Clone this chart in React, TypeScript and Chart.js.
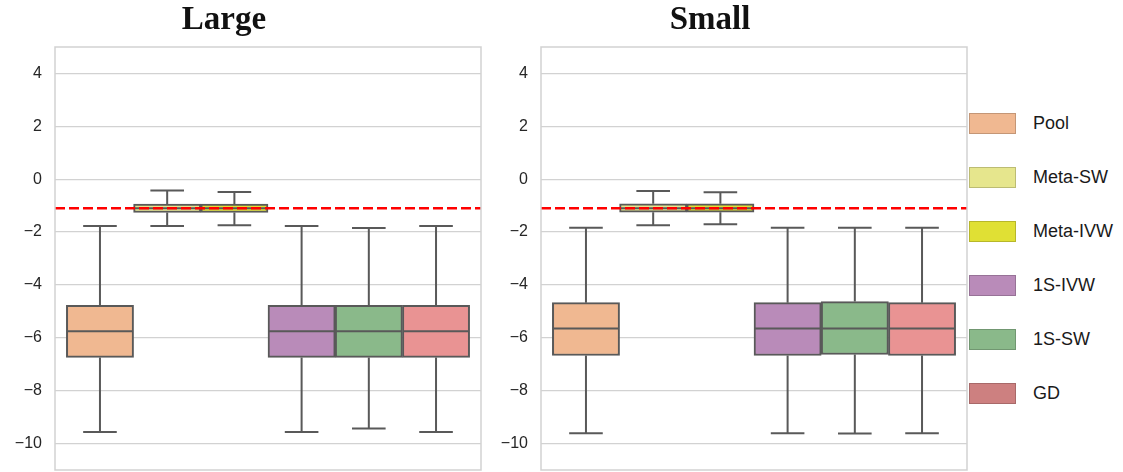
import React, { useEffect, useRef } from "react";
import { Chart, registerables } from "chart.js";

Chart.register(...registerables);

const categories = ["Pool", "Meta-SW", "Meta-IVW", "1S-IVW", "1S-SW", "GD"];
const boxColors = ["#F0B891", "#E6E68D", "#E0E034", "#B98BB9", "#8AB98A", "#E99393"];
const legendColors = ["#F0B891", "#E6E68D", "#E0E034", "#B98BB9", "#8AB98A", "#CD8080"];
const yTickValues = [-10, -8, -6, -4, -2, 0, 2, 4];
const yMin = -11;
const yMax = 5;
const refLine = -1.1;
const panelTitles = ["Large", "Small"];

const largeLow = [-9.56, -1.77, -1.74, -9.56, -9.43, -9.56];
const largeQ1 = [-6.74, -1.26, -1.26, -6.74, -6.74, -6.74];
const largeMed = [-5.75, -1.1, -1.1, -5.75, -5.75, -5.75];
const largeQ3 = [-4.77, -0.94, -0.94, -4.77, -4.77, -4.77];
const largeHigh = [-1.77, -0.43, -0.48, -1.77, -1.85, -1.77];

const smallLow = [-9.61, -1.74, -1.7, -9.61, -9.62, -9.61];
const smallQ1 = [-6.67, -1.25, -1.25, -6.67, -6.63, -6.67];
const smallMed = [-5.65, -1.1, -1.1, -5.65, -5.65, -5.65];
const smallQ3 = [-4.67, -0.93, -0.93, -4.67, -4.63, -4.67];
const smallHigh = [-1.84, -0.45, -0.49, -1.84, -1.84, -1.84];

const LINE = "#595959";
const GRID = "#d2d2d2";

const boxPlugin = {
  id: "boxExtras",
  afterDatasetsDraw(chart: any, _args: any, opts: any) {
    const { ctx, chartArea } = chart;
    const x = chart.scales.x;
    const y = chart.scales.y;
    const { low, med, high, q1, q3 } = opts;
    ctx.save();
    ctx.strokeStyle = LINE;
    ctx.lineWidth = 2;
    ctx.lineCap = "butt";
    for (let i = 0; i < low.length; i++) {
      const cx = x.getPixelForValue(i);
      const slot = x.getPixelForValue(i + 0.5) - x.getPixelForValue(i - 0.5);
      const capHalf = slot / 4;
      const halfBox = slot / 2;
      const pLow = y.getPixelForValue(low[i]);
      const pHigh = y.getPixelForValue(high[i]);
      const pQ1 = y.getPixelForValue(q1[i]);
      const pQ3 = y.getPixelForValue(q3[i]);
      const pMed = y.getPixelForValue(med[i]);
      ctx.beginPath();
      ctx.moveTo(cx, pQ3);
      ctx.lineTo(cx, pHigh);
      ctx.moveTo(cx - capHalf, pHigh);
      ctx.lineTo(cx + capHalf, pHigh);
      ctx.moveTo(cx, pQ1);
      ctx.lineTo(cx, pLow);
      ctx.moveTo(cx - capHalf, pLow);
      ctx.lineTo(cx + capHalf, pLow);
      ctx.moveTo(cx - halfBox + 1, pMed);
      ctx.lineTo(cx + halfBox - 1, pMed);
      ctx.stroke();
    }
    const ry = y.getPixelForValue(refLine);
    ctx.setLineDash([10, 4]);
    ctx.strokeStyle = "#ff0000";
    ctx.lineWidth = 2.5;
    ctx.beginPath();
    ctx.moveTo(chartArea.left, ry);
    ctx.lineTo(chartArea.right, ry);
    ctx.stroke();
    ctx.restore();
  },
  afterDraw(chart: any) {
    const { ctx, chartArea } = chart;
    ctx.save();
    ctx.strokeStyle = GRID;
    ctx.lineWidth = 1.5;
    ctx.strokeRect(
      chartArea.left,
      chartArea.top,
      chartArea.right - chartArea.left,
      chartArea.bottom - chartArea.top
    );
    ctx.restore();
  },
};

type PanelProps = {
  left: number;
  width: number;
  padRight: number;
  low: number[];
  q1: number[];
  med: number[];
  q3: number[];
  high: number[];
};

function Panel(props: PanelProps) {
  const ref = useRef<HTMLCanvasElement | null>(null);
  useEffect(() => {
    if (!ref.current) return;
    const { low, q1, med, q3, high } = props;
    const chart = new Chart(ref.current, {
      type: "bar",
      data: {
        labels: categories,
        datasets: [
          {
            data: categories.map((_, i) => ({ x: i, y: [q1[i], q3[i]] })) as any,
            backgroundColor: boxColors,
            borderColor: LINE,
            borderWidth: 2,
            borderSkipped: false,
            barPercentage: 1,
            categoryPercentage: 1,
          },
        ],
      },
      options: {
        animation: false,
        responsive: false,
        events: [],
        layout: { padding: { top: 47, bottom: 2, left: 0, right: props.padRight } },
        plugins: {
          legend: { display: false },
          tooltip: { enabled: false },
          title: { display: false },
          boxExtras: { low, q1, med, q3, high },
        } as any,
        scales: {
          x: {
            type: "linear",
            min: -0.669,
            max: 5.669,
            display: false,
            offset: false,
          },
          y: {
            min: yMin,
            max: yMax,
            afterBuildTicks: (scale: any) => {
              scale.ticks = yTickValues.map((v) => ({ value: v }));
            },
            afterFit: (scale: any) => {
              scale.width = 55;
              scale.paddingTop = 0;
              scale.paddingBottom = 0;
            },
            grid: {
              color: GRID,
              lineWidth: 1.3,
              drawTicks: false,
            },
            border: { display: false },
            ticks: {
              padding: 13,
              color: "#262626",
              font: { family: "'Liberation Sans', Arial, sans-serif", size: 16 },
              callback: (v: any) => String(v).replace("-", "\u2212"),
            },
          },
        },
      },
      plugins: [boxPlugin],
    });
    return () => chart.destroy();
  }, []);
  return (
    <canvas
      ref={ref}
      width={props.width}
      height={472}
      style={{ position: "absolute", left: props.left, top: 0, width: props.width, height: 472 }}
    />
  );
}

const titleStyle = (center: number): React.CSSProperties => ({
  position: "absolute",
  top: 2,
  left: center - 100,
  width: 200,
  textAlign: "center",
  fontFamily: "'Liberation Serif', 'Times New Roman', serif",
  fontWeight: "bold",
  fontSize: 33,
  lineHeight: "33px",
  color: "#111",
});

export default function App() {
  return (
    <div
      style={{
        position: "fixed",
        left: 0,
        top: 0,
        width: 1123,
        height: 472,
        background: "#fff",
        overflow: "hidden",
      }}
    >
      <Panel left={0} width={484} padRight={3} low={largeLow} q1={largeQ1} med={largeMed} q3={largeQ3} high={largeHigh} />
      <Panel left={486} width={483} padRight={2} low={smallLow} q1={smallQ1} med={smallMed} q3={smallQ3} high={smallHigh} />
      <div style={titleStyle(224)}>{panelTitles[0]}</div>
      <div style={titleStyle(710)}>{panelTitles[1]}</div>
      {categories.map((c, i) => (
        <React.Fragment key={c}>
          <div
            style={{
              position: "absolute",
              left: 969,
              top: 113 + i * 54,
              width: 45,
              height: 19,
              background: legendColors[i],
              border: "1px solid rgba(0,0,0,0.18)",
            }}
          />
          <div
            style={{
              position: "absolute",
              left: 1033,
              top: 113 + i * 54,
              height: 21,
              lineHeight: "21px",
              fontFamily: "'Liberation Sans', Arial, sans-serif",
              fontSize: 18,
              color: "#1a1a1a",
              whiteSpace: "nowrap",
            }}
          >
            {c}
          </div>
        </React.Fragment>
      ))}
    </div>
  );
}
